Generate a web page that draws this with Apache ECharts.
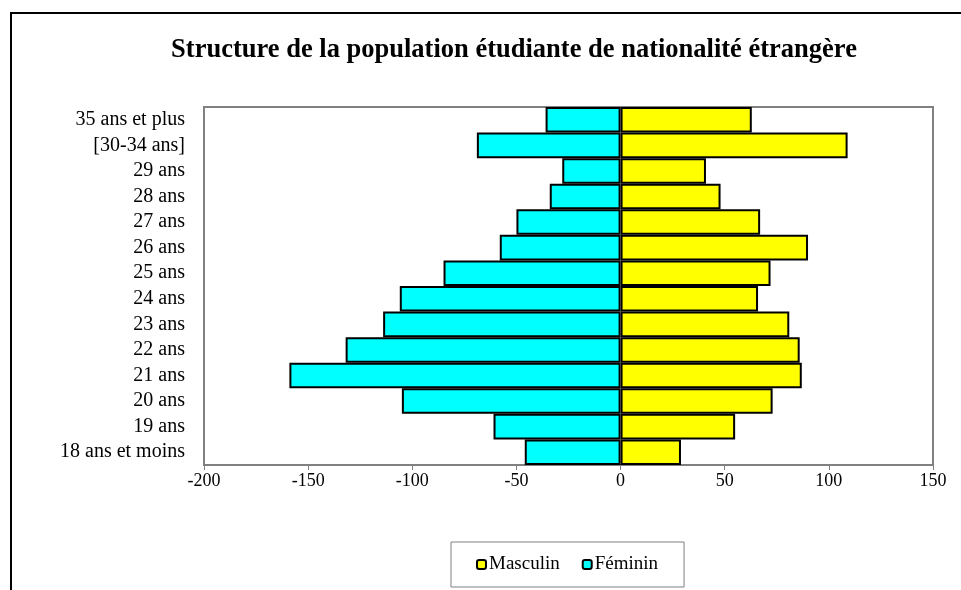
<!DOCTYPE html>
<html>
<head>
<meta charset="utf-8">
<script src="https://cdn.jsdelivr.net/npm/echarts@6/dist/echarts.min.js"></script>
<style>
  html, body { margin: 0; padding: 0; background: #fff; }
  #chart { width: 961px; height: 590px; }
</style>
</head>
<body>
<div id="chart"></div>
<script>
// tranches d'âge, de bas en haut
const ages = ['18 ans et moins', '19 ans', '20 ans', '21 ans', '22 ans', '23 ans', '24 ans',
  '25 ans', '26 ans', '27 ans', '28 ans', '29 ans', '[30-34 ans]', '35 ans et plus']
const masculin = [29, 55, 73, 87, 86, 81, 66, 72, 90, 67, 48, 41, 109, 63]
const feminin = [-46, -61, -105, -159, -132, -114, -106, -85, -58, -50, -34, -28, -69, -36]

const serif = "'Liberation Serif', 'Times New Roman', serif"

const chart = echarts.init(document.getElementById('chart'))

chart.setOption({
  animation: false,
  textStyle: { fontFamily: serif },
  title: {
    text: 'Structure de la population étudiante de nationalité étrangère',
    left: 509,
    textAlign: 'center',
    top: 32,
    textStyle: { fontFamily: serif, fontSize: 26.5, fontWeight: 'bold', color: '#000' }
  },
  // cadre extérieur
  graphic: [{
    type: 'rect',
    shape: { x: 11, y: 13, width: 1000, height: 700 },
    style: { fill: 'none', stroke: '#000', lineWidth: 2 },
    silent: true
  }],
  legend: {
    data: ['Masculin', 'Féminin'],
    left: 451,
    top: 542,
    padding: [13, 26, 13, 25],
    itemWidth: 9,
    itemHeight: 9,
    itemGap: 22,
    borderColor: '#808080',
    borderWidth: 1,
    textStyle: { fontFamily: serif, fontSize: 19, color: '#000', padding: [0, 0, 0, -2] },
    itemStyle: { borderColor: '#000', borderWidth: 2 }
  },
  grid: {
    left: 204,
    top: 107,
    right: 28,
    bottom: 125,
    show: true,
    borderColor: '#808080',
    borderWidth: 2
  },
  xAxis: {
    type: 'value',
    min: -200,
    max: 150,
    interval: 50,
    splitLine: { show: false },
    axisLine: { show: true, lineStyle: { color: '#808080', width: 2 } },
    axisTick: { show: true, length: 5, lineStyle: { color: '#808080' } },
    axisLabel: { fontFamily: serif, fontSize: 18, color: '#000', margin: 7 }
  },
  yAxis: {
    type: 'category',
    data: ages,
    axisLine: { show: false, onZero: false },
    axisTick: { show: false },
    axisLabel: { interval: 0, fontFamily: serif, fontSize: 20, color: '#000', margin: 19 }
  },
  series: [
    {
      name: 'Féminin',
      type: 'bar',
      data: feminin,
      barCategoryGap: '0%',
      barGap: '-100%',
      itemStyle: { color: '#00ffff', borderColor: '#000', borderWidth: 2 }
    },
    {
      name: 'Masculin',
      type: 'bar',
      data: masculin,
      barCategoryGap: '0%',
      barGap: '-100%',
      itemStyle: { color: '#ffff00', borderColor: '#000', borderWidth: 2 }
    }
  ]
})
</script>
</body>
</html>
